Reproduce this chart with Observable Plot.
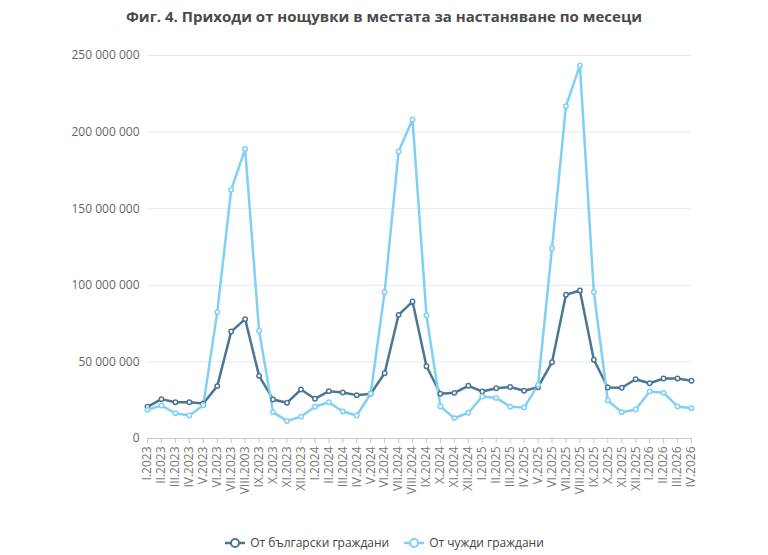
<!DOCTYPE html>
<html>
<head>
<meta charset="utf-8">
<script src="https://cdn.jsdelivr.net/npm/d3@7"></script>
<script src="https://cdn.jsdelivr.net/npm/@observablehq/plot@0.6"></script>
<style>
  html, body { margin: 0; padding: 0; background: #fff; }
  body { width: 768px; font-family: "Open Sans", "Noto Sans", sans-serif; }
  #title { height: 30px; line-height: 32px; text-align: center; font-weight: 700; font-size: 15px; color: #4a4a4a; }
  #legend { display: flex; justify-content: center; gap: 14px; font-size: 12px; color: #444; margin-top: 9px; }
  #legend span.item { display: inline-flex; align-items: center; gap: 4px; }
</style>
</head>
<body>
<div id="title">Фиг. 4. Приходи от нощувки в местата за настаняване по месеци</div>
<div id="chart"></div>
<div id="legend"></div>
<script>
// Месеци (етикети по оста X)
const months = [
  "I.2023","II.2023","III.2023","IV.2023","V.2023","VI.2023","VII.2023","VIII.2003","IX.2023","X.2023","XI.2023","XII.2023",
  "I.2024","II.2024","III.2024","IV.2024","V.2024","VI.2024","VII.2024","VIII.2024","IX.2024","X.2024","XI.2024","XII.2024",
  "I.2025","II.2025","III.2025","IV.2025","V.2025","VI.2025","VII.2025","VIII.2025","IX.2025","X.2025","XI.2025","XII.2025",
  "I.2026","II.2026","III.2026","IV.2026"
];

// Приходи от български граждани (лв.)
const bulgarian = [
  20700000, 25700000, 23700000, 23700000, 22800000, 34200000, 69800000, 77900000, 40900000, 25500000, 23300000, 32000000,
  25900000, 30900000, 30000000, 28300000, 29200000, 42600000, 80700000, 89400000, 47200000, 29200000, 29800000, 34400000,
  30700000, 32800000, 33600000, 31200000, 33500000, 49800000, 93800000, 96600000, 51400000, 33300000, 33100000, 38700000,
  36100000, 39200000, 39200000, 37700000
];

// Приходи от чужди граждани (лв.)
const foreign = [
  18700000, 21500000, 16500000, 15000000, 21700000, 82500000, 162300000, 189000000, 70300000, 17200000, 11500000, 14200000,
  20700000, 23700000, 17600000, 15000000, 29200000, 95500000, 187300000, 208200000, 80300000, 20900000, 13300000, 16800000,
  27400000, 26500000, 20800000, 20200000, 35000000, 124200000, 216900000, 243500000, 95500000, 24800000, 17200000, 18900000,
  30700000, 29800000, 20900000, 19800000
];

const seriesNames = ["От български граждани", "От чужди граждани"];
const seriesColors = ["#4b7696", "#80d0f5"];
const yTicks = [0, 50000000, 100000000, 150000000, 200000000, 250000000];

const rows = [
  ...months.map((m, i) => ({month: m, value: bulgarian[i], series: seriesNames[0]})),
  ...months.map((m, i) => ({month: m, value: foreign[i], series: seriesNames[1]}))
];

const fmt = v => d3.format(",")(v).replace(/,/g, " ");

const chart = Plot.plot({
  width: 768,
  height: 495,
  marginTop: 25,
  marginBottom: 87,
  marginLeft: 147,
  marginRight: 77,
  style: {fontFamily: "'Open Sans', 'Noto Sans', sans-serif", fontSize: "12px", color: "#666"},
  x: {type: "point", domain: months, padding: 0},
  y: {domain: [0, 250000000], ticks: yTicks},
  color: {domain: seriesNames, range: seriesColors},
  marks: [
    Plot.gridY(yTicks.filter(t => t > 0), {stroke: "#e3e8f2", strokeOpacity: 1, strokeWidth: 1}),
    Plot.axisY(yTicks, {tickSize: 0, tickPadding: 8, tickFormat: fmt, fill: "#666", fontSize: 12, label: null}),
    Plot.ruleY([0], {stroke: "#c8c8c8"}),
    Plot.axisX({tickRotate: -90, tickSize: 5, tickPadding: 3, stroke: "#c8c8c8", fill: "#777", fontSize: 12, label: null}),
    Plot.line(rows, {x: "month", y: "value", z: "series", stroke: "series", strokeWidth: 2.5}),
    Plot.dot(rows, {x: "month", y: "value", stroke: "series", fill: "white", r: 2.2, strokeWidth: 1.5})
  ]
});
document.getElementById("chart").appendChild(chart);

// Легенда под графиката
const legend = document.getElementById("legend");
seriesNames.forEach((name, i) => {
  const item = document.createElement("span");
  item.className = "item";
  item.innerHTML =
    `<svg width="22" height="12"><line x1="1" y1="6" x2="21" y2="6" stroke="${seriesColors[i]}" stroke-width="2.5"/>` +
    `<circle cx="11" cy="6" r="4" fill="white" stroke="${seriesColors[i]}" stroke-width="2"/></svg>` +
    `<span>${name}</span>`;
  legend.appendChild(item);
});
</script>
</body>
</html>
